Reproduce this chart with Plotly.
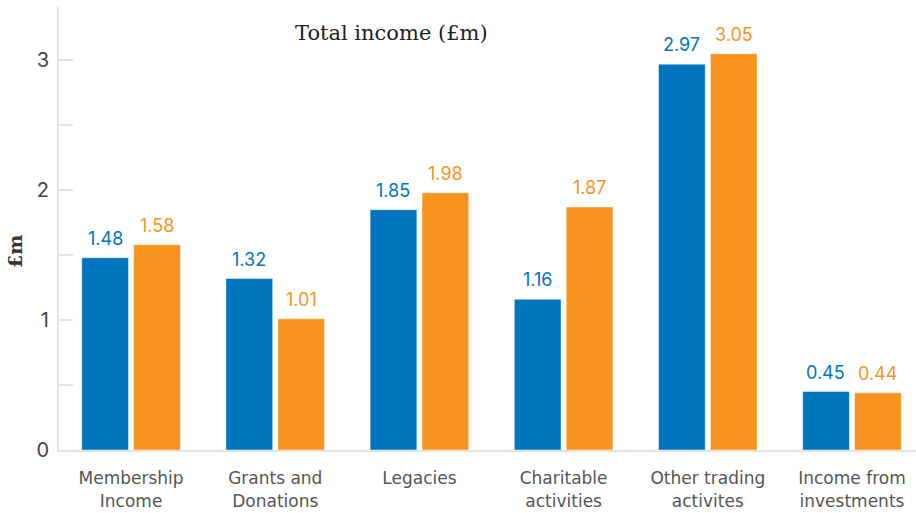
import plotly.graph_objects as go

categories = [
    "Membership<br>Income",
    "Grants and<br>Donations",
    "Legacies",
    "Charitable<br>activities",
    "Other trading<br>activites",
    "Income from<br>investments",
]
series_a = [1.48, 1.32, 1.85, 1.16, 2.97, 0.45]
series_b = [1.58, 1.01, 1.98, 1.87, 3.05, 0.44]

blue = "#0074BD"
orange = "#F7931E"
label_font = "Inter, Noto Sans, sans-serif"
axis_font = "DejaVu Sans, sans-serif"
serif_font = "DejaVu Serif, Liberation Serif, serif"

fig = go.Figure()
for vals, col in [(series_a, blue), (series_b, orange)]:
    fig.add_trace(go.Bar(
        x=categories,
        y=vals,
        marker=dict(color=col, line=dict(color="rgba(255,255,255,0.45)", width=1)),
        hoverinfo="x+y",
    ))

# value labels above each bar, offset to the bar's side of the group
for vals, col, shift in [(series_a, blue, -26), (series_b, orange, 26)]:
    for cat, v in zip(categories, vals):
        fig.add_annotation(
            x=cat, y=v, xref="x", yref="y",
            text=f"{v:.2f}",
            xshift=shift, yshift=7,
            xanchor="center", yanchor="bottom",
            showarrow=False,
            font=dict(family=label_font, size=18, color=col),
        )

fig.update_layout(
    width=916,
    height=513,
    margin=dict(l=59, r=0, t=7, b=63),
    paper_bgcolor="white",
    plot_bgcolor="white",
    showlegend=False,
    barmode="group",
    bargap=0.28,
    bargroupgap=0.1,
)

fig.update_xaxes(
    range=[-0.5, 5.444],
    showline=True,
    linecolor="#e3e3e3",
    linewidth=2,
    ticks="",
    showgrid=False,
    ticklabelstandoff=12,
    tickfont=dict(family=axis_font, size=17, color="#555555"),
)

fig.update_yaxes(
    range=[0, 3.41],
    showline=True,
    linecolor="#e3e3e3",
    linewidth=2,
    showgrid=False,
    zeroline=False,
    dtick=1,
    ticks="inside",
    ticklen=14,
    tickcolor="#e3e3e3",
    tickwidth=1.5,
    minor=dict(dtick=0.5, ticks="inside", ticklen=14, tickcolor="#e3e3e3", tickwidth=1.5),
    ticklabelstandoff=4,
    tickfont=dict(family=label_font, size=20, color="#444444"),
)

fig.add_annotation(
    text="Total income (£m)",
    xref="paper", yref="paper",
    x=(391 - 59) / 857, y=1 + (7 - 33) / 443,
    xanchor="center", yanchor="middle",
    showarrow=False,
    font=dict(family=serif_font, size=21, color="#222222"),
)

fig.add_annotation(
    text="<b>£m</b>",
    xref="paper", yref="paper",
    x=(15 - 59) / 857, y=(450 - 252) / 443,
    xanchor="center", yanchor="middle",
    textangle=-90,
    showarrow=False,
    font=dict(family=serif_font, size=19, color="#333333"),
)

fig.write_html("out.html")
